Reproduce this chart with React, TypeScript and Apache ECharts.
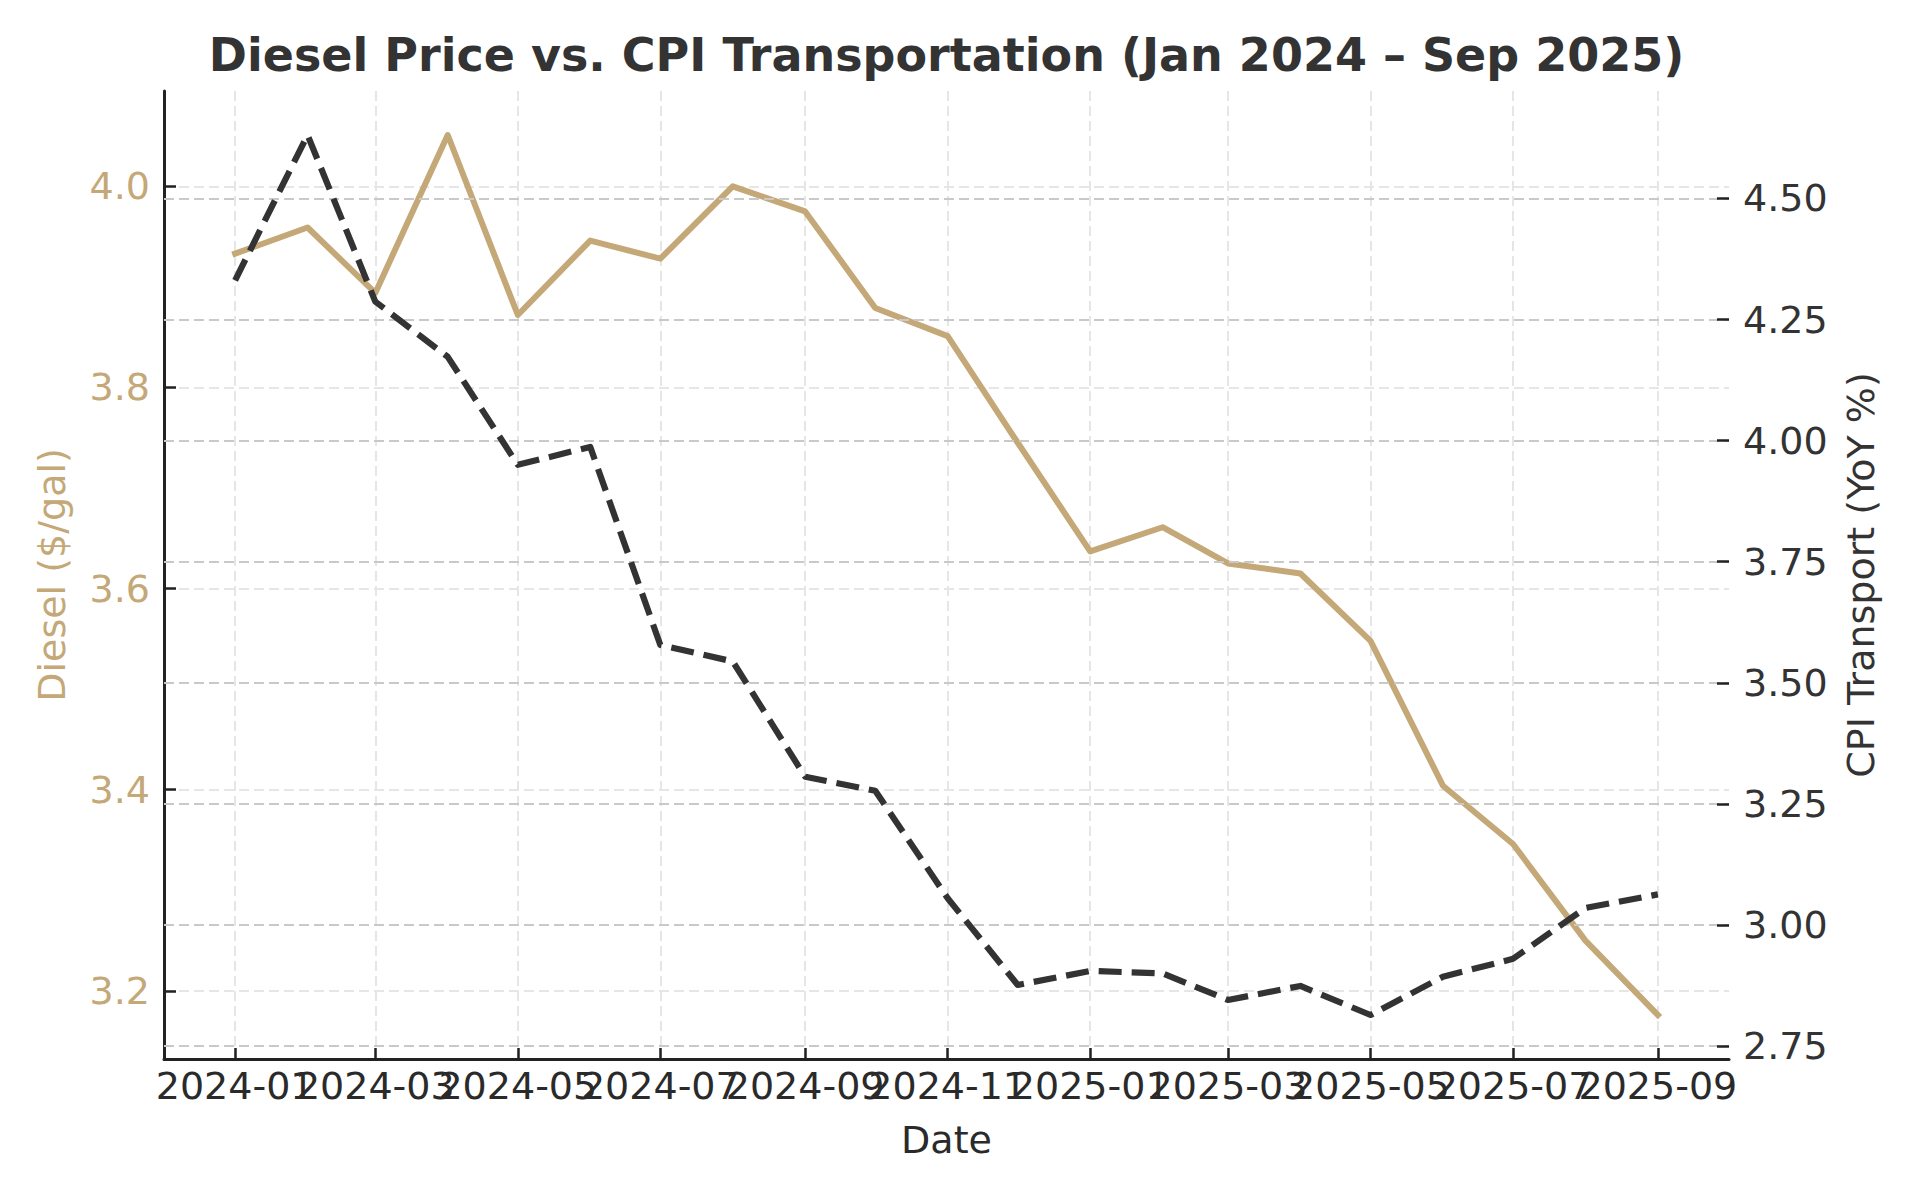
import React, { useEffect, useRef } from "react";
import * as echarts from "echarts";

// ---- data ----
const months = [
  "2024-01", "2024-02", "2024-03", "2024-04", "2024-05", "2024-06", "2024-07",
  "2024-08", "2024-09", "2024-10", "2024-11", "2024-12", "2025-01", "2025-02",
  "2025-03", "2025-04", "2025-05", "2025-06", "2025-07", "2025-08", "2025-09",
];
const diesel = [
  3.933, 3.959, 3.894, 4.051, 3.872, 3.946, 3.928, 4.0, 3.975, 3.879, 3.851,
  3.745, 3.637, 3.661, 3.625, 3.615, 3.548, 3.404, 3.346, 3.25, 3.176,
];
const cpi = [
  4.331, 4.631, 4.287, 4.173, 3.95, 3.987, 3.578, 3.544, 3.306, 3.277, 3.055,
  2.876, 2.905, 2.9, 2.845, 2.874, 2.814, 2.893, 2.93, 3.035, 3.063,
];
const xTickLabels = [
  "2024-01", "2024-03", "2024-05", "2024-07", "2024-09", "2024-11",
  "2025-01", "2025-03", "2025-05", "2025-07", "2025-09",
];
const dieselTicks = [3.2, 3.4, 3.6, 3.8, 4.0];
const cpiTicks = [2.75, 3.0, 3.25, 3.5, 3.75, 4.0, 4.25, 4.5];

const TITLE = "Diesel Price vs. CPI Transportation (Jan 2024 – Sep 2025)";
const X_NAME = "Date";
const Y1_NAME = "Diesel ($/gal)";
const Y2_NAME = "CPI Transport (YoY %)";

const TAN = "#C4A877";
const DARK = "#333333";
const XDARK = "#2a2a2a";
const FONT = "DejaVu Sans";

function ts(m: string): number {
  const [y, mo] = m.split("-").map(Number);
  return new Date(y, mo - 1, 1).getTime();
}
function fmtMonth(v: number): string {
  const d = new Date(v);
  return `${d.getFullYear()}-${String(d.getMonth() + 1).padStart(2, "0")}`;
}
function padExtent(arr: number[]): [number, number] {
  const lo = Math.min(...arr);
  const hi = Math.max(...arr);
  const p = (hi - lo) * 0.05;
  return [lo - p, hi + p];
}

export default function App() {
  const ref = useRef<HTMLDivElement>(null);

  useEffect(() => {
    document.body.style.margin = "0";
    const chart = echarts.init(ref.current as HTMLDivElement, null, {
      renderer: "svg",
    });

    const xs = months.map(ts);
    const [xMin, xMax] = padExtent(xs);
    const [y1Min, y1Max] = padExtent(diesel);
    const [y2Min, y2Max] = padExtent(cpi);
    const xTickVals = xTickLabels.map(ts);
    // labels split over two overlaid axes so that ECharts keeps every one of them
    const xLabelsA = xTickVals.filter((_, i) => i % 2 === 0);
    const xLabelsB = xTickVals.filter((_, i) => i % 2 === 1);

    const gridLeft = 164;
    const gridRight = 1729;
    const gridTop = 91;
    const gridBottom = 1059;
    const cx = (gridLeft + gridRight) / 2;
    const cy = (gridTop + gridBottom) / 2;

    const xLabelStyle = {
      show: true,
      formatter: (v: number) => fmtMonth(v),
      fontSize: 38,
      fontFamily: FONT,
      color: XDARK,
      margin: 8,
      hideOverlap: false,
    };

    const option: any = {
      animation: false,
      backgroundColor: "#ffffff",
      textStyle: { fontFamily: FONT },
      grid: {
        left: gridLeft,
        right: 1920 - gridRight,
        top: gridTop,
        bottom: 1200 - gridBottom,
        containLabel: false,
        outerBoundsMode: "none",
      },
      xAxis: [
        {
          type: "value",
          position: "bottom",
          min: xMin,
          max: xMax,
          axisLine: { show: true, lineStyle: { color: "#222222", width: 3 } },
          axisTick: {
            show: true,
            inside: true,
            length: 11,
            customValues: xTickVals,
            lineStyle: { color: "#222222", width: 2.5 },
          },
          axisLabel: { ...xLabelStyle, customValues: xLabelsA },
          splitLine: {
            show: true,
            lineStyle: { color: "#e6e6e6", width: 2, type: [10, 5] },
          },
        },
        {
          type: "value",
          position: "bottom",
          offset: 0,
          min: xMin,
          max: xMax,
          axisLine: { show: false },
          axisTick: { show: false, customValues: xLabelsB },
          axisLabel: { ...xLabelStyle, customValues: xLabelsB },
          splitLine: { show: false },
        },
      ],
      yAxis: [
        {
          type: "value",
          position: "left",
          min: y1Min,
          max: y1Max,
          axisLine: { show: true, lineStyle: { color: "#222222", width: 3 } },
          axisTick: {
            show: true,
            inside: true,
            length: 12,
            customValues: dieselTicks,
            lineStyle: { color: "#222222", width: 2.5 },
          },
          axisLabel: {
            show: true,
            customValues: dieselTicks,
            formatter: (v: number) => v.toFixed(1),
            fontSize: 38,
            fontFamily: FONT,
            color: TAN,
            margin: 14,
          },
          splitLine: {
            show: true,
            lineStyle: { color: "#e6e6e6", width: 2, type: [10, 5] },
          },
        },
        {
          type: "value",
          position: "right",
          min: y2Min,
          max: y2Max,
          z: 3,
          axisLine: { show: false },
          axisTick: {
            show: true,
            inside: true,
            length: 12,
            customValues: cpiTicks,
            lineStyle: { color: "#222222", width: 2.5 },
          },
          axisLabel: {
            show: true,
            customValues: cpiTicks,
            formatter: (v: number) => v.toFixed(2),
            fontSize: 38,
            fontFamily: FONT,
            color: DARK,
            margin: 14,
          },
          splitLine: {
            show: true,
            lineStyle: { color: "#c9c9c9", width: 2, type: [10, 5] },
          },
        },
      ],
      series: [
        {
          name: "Diesel",
          type: "line",
          xAxisIndex: 0,
          yAxisIndex: 0,
          data: xs.map((x, i) => [x, diesel[i]]),
          symbol: "none",
          showSymbol: false,
          silent: true,
          z: 2,
          lineStyle: { color: TAN, width: 6, cap: "square", join: "round" },
          itemStyle: { color: TAN },
        },
        {
          name: "CPI",
          type: "line",
          xAxisIndex: 0,
          yAxisIndex: 1,
          data: xs.map((x, i) => [x, cpi[i]]),
          symbol: "none",
          showSymbol: false,
          silent: true,
          z: 4,
          lineStyle: {
            color: DARK,
            width: 6.2,
            type: [23, 10],
            cap: "butt",
            join: "round",
          },
          itemStyle: { color: DARK },
        },
      ],
      graphic: [
        {
          type: "text",
          x: cx,
          y: 55,
          silent: true,
          style: {
            text: TITLE,
            fontSize: 46,
            fontWeight: "bold",
            fontFamily: FONT,
            fill: DARK,
            align: "center",
            verticalAlign: "middle",
          },
        },
        {
          type: "text",
          x: cx,
          y: 1140,
          silent: true,
          style: {
            text: X_NAME,
            fontSize: 38,
            fontFamily: FONT,
            fill: XDARK,
            align: "center",
            verticalAlign: "middle",
          },
        },
        {
          type: "text",
          x: 52,
          y: cy,
          rotation: Math.PI / 2,
          silent: true,
          style: {
            text: Y1_NAME,
            fontSize: 38,
            fontFamily: FONT,
            fill: TAN,
            align: "center",
            verticalAlign: "middle",
          },
        },
        {
          type: "text",
          x: 1861,
          y: cy,
          rotation: Math.PI / 2,
          silent: true,
          style: {
            text: Y2_NAME,
            fontSize: 38,
            fontFamily: FONT,
            fill: DARK,
            align: "center",
            verticalAlign: "middle",
          },
        },
      ],
    };

    chart.setOption(option);
    return () => chart.dispose();
  }, []);

  return <div ref={ref} style={{ width: 1920, height: 1200 }} />;
}
